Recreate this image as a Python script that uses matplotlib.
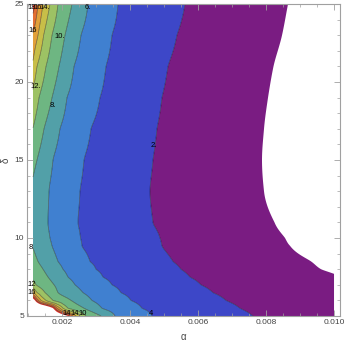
import numpy as np
import matplotlib
matplotlib.use('Agg')
import matplotlib.pyplot as plt
from matplotlib.ticker import MultipleLocator, FormatStrFormatter

plt.rcParams['font.family'] = ['Liberation Sans', 'DejaVu Sans']

nan = np.nan

# rows of delta; alpha values are in units of 1e-3
delta = [25, 23, 21, 19, 17, 15, 13, 11, 10, 9.5, 8.5, 8, 7.5, 7, 6.5, 6, 5.5, 5]
a_left, a_right = 1.147, 10.0
z_left = [19.0, 15.8, 13.6, 11.5, 9.95, 8.5, 7.7, 7.3, 7.6, 7.9, 8.6, 9.1, 9.6, 11.0, 14.7, 22, 30, 35]
z_right = [-0.9, -1.0, -1.1, -1.2, -1.3, -1.3, -1.3, -1.2, -1.0, -0.9, -0.35, -0.15, 0.1, 0.3, 0.5, 0.6, 0.7, 0.8]

# alpha (x1e-3) where each contour level crosses each delta row
c20 = [nan, nan, nan, nan, nan, nan, nan, nan, nan, nan, nan, nan, nan, nan, nan, 1.206, 1.735, 2.176]
c18 = [1.206, nan, nan, nan, nan, nan, nan, nan, nan, nan, nan, nan, nan, nan, nan, 1.25, 1.794, 2.235]
c16 = [1.294, nan, nan, nan, nan, nan, nan, nan, nan, nan, nan, nan, nan, nan, nan, 1.31, 1.853, 2.324]
c14 = [1.441, 1.294, nan, nan, nan, nan, nan, nan, nan, nan, nan, nan, nan, nan, 1.176, 1.382, 1.941, 2.412]
c12 = [1.647, 1.46, 1.265, nan, nan, nan, nan, nan, nan, nan, nan, nan, nan, nan, 1.265, 1.529, 2.029, 2.529]
c10 = [1.882, 1.706, 1.529, 1.324, nan, nan, nan, nan, nan, nan, nan, nan, nan, 1.235, 1.5, 1.735, 2.176, 2.706]
c8 = [2.294, 2.088, 1.912, 1.706, 1.47, 1.265, nan, nan, nan, nan, 1.294, 1.441, 1.588, 1.765, 1.882, 2.265, 2.647, 3.147]
c6 = [2.765, 2.559, 2.353, 2.147, 1.941, 1.735, 1.618, 1.588, 1.647, 1.706, 1.882, 2.029, 2.176, 2.382, 2.618, 2.882, 3.176, 3.559]
c4 = [3.647, 3.471, 3.294, 3.118, 2.853, 2.647, 2.529, 2.471, 2.544, 2.588, 2.824, 3.0, 3.206, 3.471, 3.735, 4.029, 4.353, 4.647]
c2 = [5.618, 5.382, 5.118, 4.941, 4.794, 4.676, 4.588, 4.676, 4.882, 4.941, 5.265, 5.5, 5.765, 6.088, 6.441, 6.824, 7.235, 7.618]
c0 = [8.647, 8.471, 8.22, 8.059, 7.941, 7.882, 7.941, 8.25, 8.559, 8.706, 9.324, 9.618, nan, nan, nan, nan, nan, nan]

levels = [20, 18, 16, 14, 12, 10, 8, 6, 4, 2, 0]
crossings = [c20, c18, c16, c14, c12, c10, c8, c6, c4, c2, c0]

band_colors = ['#7a1c82', '#3d47c8', '#4080d0', '#52a0a8', '#6eb682',
               '#9dc264', '#c8be48', '#e1a03a', '#e26e32', '#d83228']


def pchip(x, Y, xf):
    # monotone cubic along axis 0 (Fritsch-Carlson)
    h = np.diff(x)
    dk = np.diff(Y, axis=0) / h[:, None]
    m = np.zeros_like(Y)
    m[0] = dk[0]
    m[-1] = dk[-1]
    for k in range(1, len(x) - 1):
        w1 = 2 * h[k] + h[k - 1]
        w2 = h[k] + 2 * h[k - 1]
        a, b = dk[k - 1], dk[k]
        ok = a * b > 0
        with np.errstate(divide='ignore', invalid='ignore'):
            hm = (w1 + w2) / (w1 / a + w2 / b)
        m[k] = np.where(ok, hm, 0.0)
    i = np.clip(np.searchsorted(x, xf) - 1, 0, len(x) - 2)
    t = ((xf - x[i]) / h[i])[:, None]
    hh = h[i][:, None]
    h00 = 2 * t**3 - 3 * t**2 + 1
    h10 = t**3 - 2 * t**2 + t
    h01 = -2 * t**3 + 3 * t**2
    h11 = t**3 - t**2
    return h00 * Y[i] + h10 * hh * m[i] + h01 * Y[i + 1] + h11 * hh * m[i + 1]


# build the field row by row, then between rows
alpha_f = np.linspace(a_left, a_right, 700)
rows = []
for i in range(len(delta)):
    xs = [a_left]
    zs = [z_left[i]]
    for lv, c in zip(levels, crossings):
        if not np.isnan(c[i]):
            xs.append(c[i])
            zs.append(lv)
    xs.append(a_right)
    zs.append(z_right[i])
    o = np.argsort(xs)
    rows.append(np.interp(alpha_f, np.array(xs)[o], np.array(zs)[o]))
rows = np.array(rows)
d = np.array(delta, dtype=float)
idx = np.argsort(d)
delta_f = np.linspace(5, 25, 700)
Z = pchip(d[idx], rows[idx], delta_f)

fig = plt.figure(figsize=(3.45, 3.42), dpi=100)
ax = fig.add_axes([27/345, 1-316/342, 313/345, 312/342])

A = alpha_f * 1e-3
ax.contourf(A, delta_f, Z, levels=np.arange(0, 21, 2), colors=band_colors, antialiased=True)
ax.contour(A, delta_f, Z, levels=np.arange(2, 19, 2), colors='k', linewidths=0.5, alpha=0.5)

# contour labels
lab_kw = dict(fontsize=5.5, ha='center', va='center', color='black')
for s, x, y in [('18', 1.12, 24.8), ('16', 1.3, 24.8), ('14.', 1.5, 24.8),
                ('6.', 2.77, 24.8), ('16', 1.15, 23.27), ('10.', 1.94, 22.9),
                ('12.', 1.24, 19.7), ('8.', 1.74, 18.5), ('2.', 4.71, 15.96),
                ('8', 1.07, 9.42), ('12', 1.1, 7.05), ('16', 1.1, 6.5),
                ('14', 2.15, 5.15), ('14', 2.38, 5.15), ('10', 2.62, 5.18),
                ('4', 4.62, 5.13)]:
    ax.text(x * 1e-3, y, s, **lab_kw)

ax.set_xlim(0.9706e-3, 10.176e-3)
ax.set_ylim(5, 25)
ax.xaxis.set_major_locator(MultipleLocator(0.002))
ax.xaxis.set_minor_locator(MultipleLocator(0.0005))
ax.xaxis.set_major_formatter(FormatStrFormatter('%.3f'))
ax.yaxis.set_major_locator(MultipleLocator(5))
ax.yaxis.set_minor_locator(MultipleLocator(1))

frame_c = '#a0a0a0'
for sp in ax.spines.values():
    sp.set_color(frame_c)
    sp.set_linewidth(0.8)
ax.tick_params(which='both', direction='in', top=True, right=True,
               color=frame_c, labelsize=6, labelcolor='#444444', pad=2)
ax.tick_params(which='major', length=4, width=0.6)
ax.tick_params(which='minor', length=2.2, width=0.5)

ax.set_xlabel('α', fontsize=7, color='#444444')
ax.set_ylabel('δ', fontsize=7, color='#444444')
ax.xaxis.set_label_coords(0.5, -0.05)
ax.yaxis.set_label_coords(-0.052, 0.5)

fig.savefig('out.png', dpi=100)
